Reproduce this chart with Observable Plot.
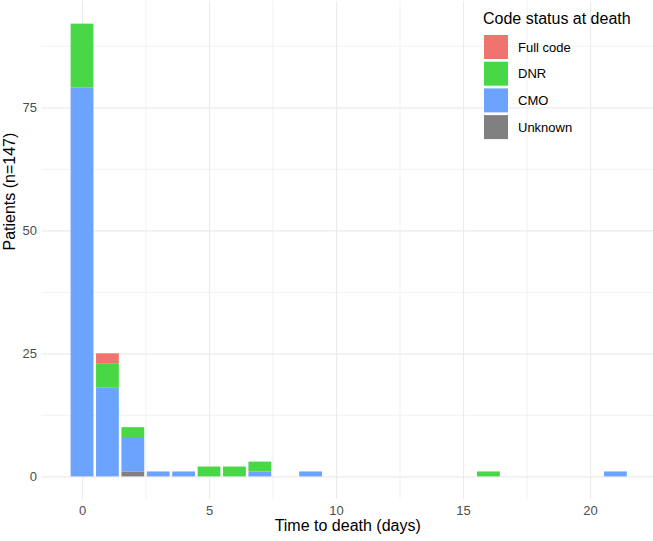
<!DOCTYPE html>
<html>
<head>
<meta charset="utf-8">
<script src="https://cdn.jsdelivr.net/npm/d3@7"></script>
<script src="https://cdn.jsdelivr.net/npm/@observablehq/plot@0.6"></script>
<style>
  html, body { margin: 0; padding: 0; background: white; }
  #chart { position: relative; width: 653px; height: 541px; }
</style>
</head>
<body>
<div id="chart"></div>
<script>
// ---- data ----
const days      = [0, 1, 2, 3, 4, 5, 6, 7, 9, 16, 21];
const fullCode  = [0, 2, 0, 0, 0, 0, 0, 0, 0, 0, 0];
const dnr       = [13, 5, 2, 0, 0, 2, 2, 2, 0, 1, 0];
const cmo       = [79, 18, 7, 1, 1, 0, 0, 1, 1, 0, 1];
const unknown   = [0, 0, 1, 0, 0, 0, 0, 0, 0, 0, 0];

const statuses  = ["Full code", "DNR", "CMO", "Unknown"];
const colors    = ["#F0736E", "#49D845", "#6BA3FF", "#808080"];
const stackOrder = ["Unknown", "CMO", "DNR", "Full code"];

const xTicks = [0, 5, 10, 15, 20];
const xMinor = [2.5, 7.5, 12.5, 17.5];
const yTicks = [0, 25, 50, 75];
const yMinor = [12.5, 37.5, 62.5, 87.5];

const xTitle = "Time to death (days)";
const yTitle = "Patients (n=147)";
const legendTitle = "Code status at death";

// ---- build table ----
const series = {"Full code": fullCode, "DNR": dnr, "CMO": cmo, "Unknown": unknown};
const rows = [];
for (const s of stackOrder) {
  series[s].forEach((v, i) => {
    if (v > 0) rows.push({day: days[i], status: s, count: v});
  });
}

const font = "'Liberation Sans', Arial, Helvetica, sans-serif";
const major = "#EBEBEB";

const plot = Plot.plot({
  width: 653,
  height: 541,
  marginLeft: 41.4,
  marginRight: 0,
  marginTop: 1,
  marginBottom: 42,
  style: {fontFamily: font, background: "white", color: "#4D4D4D"},
  x: {domain: [-1.6, 22.48], axis: null},
  y: {domain: [-4.6, 96.6], axis: null},
  color: {domain: statuses, range: colors},
  marks: [
    Plot.ruleX(xMinor, {stroke: major, strokeWidth: 0.7}),
    Plot.ruleY(yMinor, {stroke: major, strokeWidth: 0.7}),
    Plot.ruleX(xTicks, {stroke: major, strokeWidth: 1.2}),
    Plot.ruleY(yTicks, {stroke: major, strokeWidth: 1.2}),
    Plot.rectY(rows, Plot.stackY({
      x: "day",
      x1: d => d.day - 0.5,
      x2: d => d.day + 0.5,
      y: "count",
      z: "status",
      fill: "status",
      order: stackOrder,
      insetLeft: 1.3,
      insetRight: 1.3
    })),
    Plot.axisX(xTicks, {tickSize: 0, tickPadding: 6, fontSize: 13, fill: "#4D4D4D", label: null}),
    Plot.axisY(yTicks, {tickSize: 0, tickPadding: 5, fontSize: 13, fill: "#4D4D4D", label: null}),
    Plot.text([xTitle], {frameAnchor: "bottom", dy: 31, fontSize: 16, fill: "black"}),
    Plot.text([yTitle], {frameAnchor: "left", dx: -32, rotate: -90, fontSize: 16, fill: "black"})
  ]
});

document.getElementById("chart").appendChild(plot);

// ---- legend (inside the panel, top right) ----
const svg = d3.select(plot);
const lg = svg.append("g")
  .attr("font-family", font)
  .attr("text-anchor", "start");
lg.append("text")
  .attr("x", 483).attr("y", 18)
  .attr("text-anchor", "start")
  .attr("dominant-baseline", "central")
  .attr("font-size", 16).attr("fill", "black")
  .text(legendTitle);
statuses.forEach((s, i) => {
  const y0 = 35 + i * 26.7;
  lg.append("rect")
    .attr("x", 484).attr("y", y0)
    .attr("width", 24).attr("height", 24)
    .attr("fill", colors[i]);
  lg.append("text")
    .attr("x", 518).attr("y", y0 + 12)
    .attr("text-anchor", "start")
    .attr("dominant-baseline", "central")
    .attr("font-size", 13).attr("fill", "black")
    .text(s);
});
</script>
</body>
</html>
